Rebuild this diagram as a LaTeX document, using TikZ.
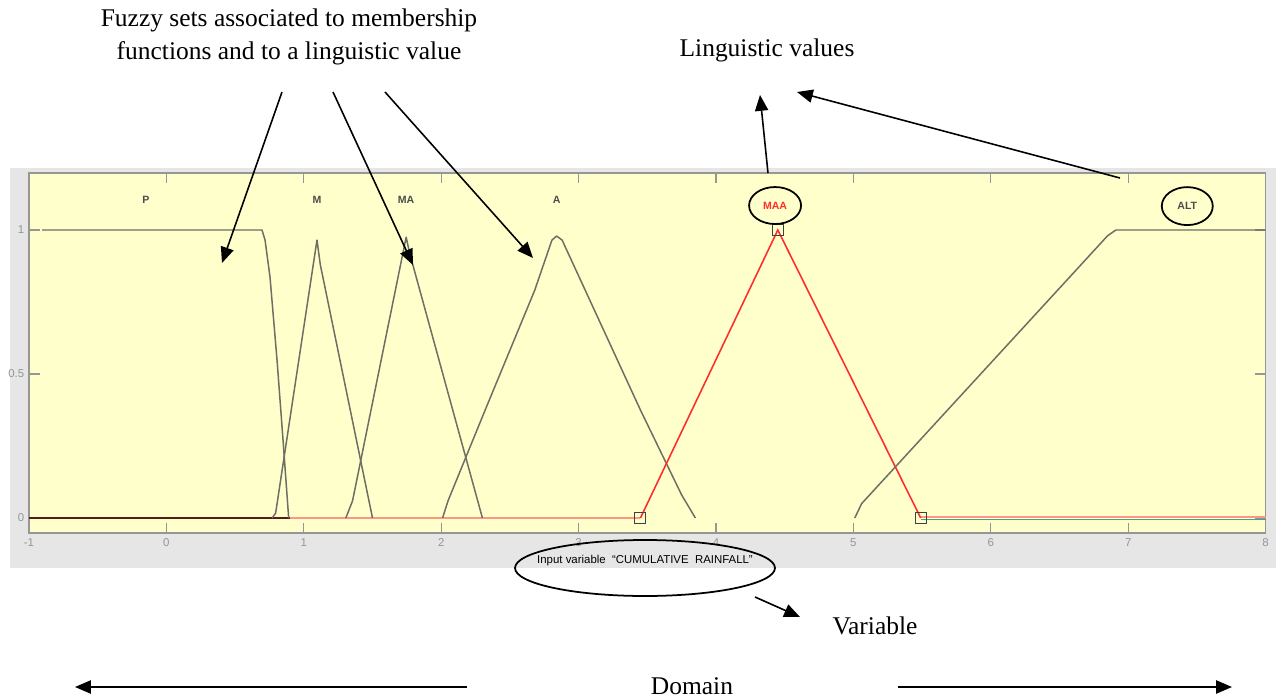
\documentclass[tikz,border=0pt]{standalone}
\usepackage{fontspec}
\setmainfont{Liberation Serif}
\newfontfamily\plotfont{Liberation Sans}
\usetikzlibrary{arrows.meta, positioning, calc, shapes.geometric}
\definecolor{plotbg}{RGB}{255,255,204}
\definecolor{panel}{RGB}{230,230,230}
\definecolor{mfgrey}{RGB}{110,110,100}
\definecolor{axgrey}{RGB}{150,150,150}
\definecolor{mfred}{RGB}{255,45,45}
\definecolor{zeropink}{RGB}{255,150,130}
\definecolor{zerodark}{RGB}{90,25,25}
\definecolor{zeroteal}{RGB}{70,160,150}
\tikzstyle{arrow} = [line width=0.9pt,-{Triangle[length=9pt,width=7.5pt]}]
\tikzstyle{mf} = [mfgrey, line width=0.85pt, line join=round]
\tikzstyle{mflabel} = [font=\plotfont\bfseries\fontsize{6}{7}\selectfont, text=black!70, inner sep=0pt]
\tikzstyle{ticklabel} = [font=\plotfont\fontsize{6.5}{7}\selectfont, text=axgrey, inner sep=1pt]
\tikzstyle{note} = [font=\fontsize{14.5}{18.5}\selectfont, align=center]
\tikzstyle{ring} = [draw, ellipse, line width=1pt, inner sep=0pt]
\tikzstyle{vertex} = [draw=black!75, line width=0.6pt, minimum size=0.22cm, inner sep=0pt]

\begin{document}
\begin{tikzpicture}[x=0.02cm,y=-0.02cm]
  \useasboundingbox (0,0) rectangle (1276,700);
  % grey panel and annotations
  \fill[panel] (10,168) rectangle (1276,568);
  \node[note] (fuzzy) at (289,37) {Fuzzy sets associated to membership\\functions and to a linguistic value};
  \node[note] (lingval) at (767,50) {Linguistic values};
  \node[note] (varname) at (875,626) {Variable};
  \node[note] (domain) at (692,686) {Domain};

  \begin{scope}[shift={(166.4,518)}, xscale=137.4, yscale=-288]
    \fill[plotbg] (-1,-0.052) rectangle (8,1.198);
    \draw[axgrey, line width=0.6pt] (-1,-0.052) rectangle (8,1.198);
    \foreach \u in {-1,...,8} {
      \draw[axgrey, line width=0.6pt] (\u,1.198) -- (\u,1.163);
      \draw[axgrey, line width=0.6pt] (\u,-0.052) -- (\u,-0.017);
      \node[ticklabel] (tx\u) at (\u,-0.085) {\u};
    }
    \foreach \v/\t in {0/0, 0.5/0.5, 1/1} {
      \draw[axgrey, line width=0.6pt] (-1,\v) -- (-0.92,\v);
      \draw[axgrey, line width=0.6pt] (8,\v) -- (7.92,\v);
      \node[ticklabel, anchor=east] (ty\t) at (-1.02,\v) {\t};
    }
    % zero lines
    \draw[zeropink, line width=1.6pt] (-1,0) -- (3.45,0);
    \draw[zerodark, line width=0.8pt] (-1,0) -- (0.9,0);
    \draw[zeroteal, line width=0.7pt] (5.49,-0.006) -- (8,-0.006);
    \draw[zeropink, line width=0.9pt] (5.49,0.003) -- (8,0.003);
    % membership functions
    \draw[mf] (-0.905,1) -- (0.696,1) -- (0.718,0.965) -- (0.754,0.837)
      -- (0.805,0.55) -- (0.849,0.27) -- (0.89,0);
    \draw[mf] (0.77,0) -- (0.795,0.017) -- (1.096,0.965) -- (1.12,0.88) -- (1.5,0);
    \draw[mf] (1.306,0) -- (1.355,0.06) -- (1.745,0.975) -- (1.77,0.92) -- (2.3,0);
    \draw[mf] (2.01,0) -- (2.05,0.06) -- (2.32,0.375) -- (2.68,0.79) -- (2.806,0.965)
      -- (2.84,0.979) -- (2.88,0.965) -- (3.45,0.375) -- (3.75,0.08) -- (3.85,0);
    \draw[mfred, line width=0.9pt] (3.45,0) -- (4.45,1) -- (5.49,0);
    \draw[mf] (5.01,0) -- (5.06,0.05) -- (6.85,0.98) -- (6.91,1) -- (8,1);
    \node[vertex] (sq1) at (3.45,0) {};
    \node[vertex] (sq2) at (4.45,1) {};
    \node[vertex] (sq3) at (5.49,0) {};
    % labels of the sets
    \node[mflabel] (lp) at (-0.15,1.104) {P};
    \node[mflabel] (lm) at (1.096,1.104) {M};
    \node[mflabel] (lma) at (1.745,1.104) {MA};
    \node[mflabel] (la) at (2.84,1.104) {A};
    \node[ring, minimum width=1.04cm, minimum height=0.74cm, text=mfred,
      font=\plotfont\bfseries\fontsize{6}{7}\selectfont] (lmaa) at (4.43,1.085) {MAA};
    \node[ring, minimum width=1.02cm, minimum height=0.76cm, text=black!70,
      font=\plotfont\bfseries\fontsize{6}{7}\selectfont] (lalt) at (7.43,1.083) {ALT};
  \end{scope}

  \node[font=\plotfont\fontsize{6.5}{8}\selectfont, inner sep=0pt] (invar) at (645,561)
    {Input variable ~“CUMULATIVE ~RAINFALL”};
  \draw[line width=1pt] (645,568) ellipse [x radius=2.6cm, y radius=0.56cm];

  % connectors
  \coordinate (f1) at (282,92);
  \coordinate (f2) at (333,92);
  \coordinate (f3) at (385,92);
  \coordinate (t1) at (222,263);
  \coordinate (t2) at (413,265);
  \coordinate (t3) at (533,258);
  \coordinate (l1) at (768,173);
  \coordinate (l2) at (1120,178);
  \coordinate (h1) at (760,95);
  \coordinate (h2) at (797,92);
  \coordinate (v1) at (755,597);
  \coordinate (v2) at (800,617);
  \coordinate (d1) at (467,687);
  \coordinate (d2) at (75,687);
  \coordinate (d3) at (898,687);
  \coordinate (d4) at (1232,687);
  \draw[arrow] (f1) -- (t1);
  \draw[arrow] (f2) -- (t2);
  \draw[arrow] (f3) -- (t3);
  \draw[arrow] (l1) -- (h1);
  \draw[arrow] (l2) -- (h2);
  \draw[arrow] (v1) -- (v2);
  \draw[arrow] (d1) -- (d2);
  \draw[arrow] (d3) -- (d4);
\end{tikzpicture}
\end{document}
